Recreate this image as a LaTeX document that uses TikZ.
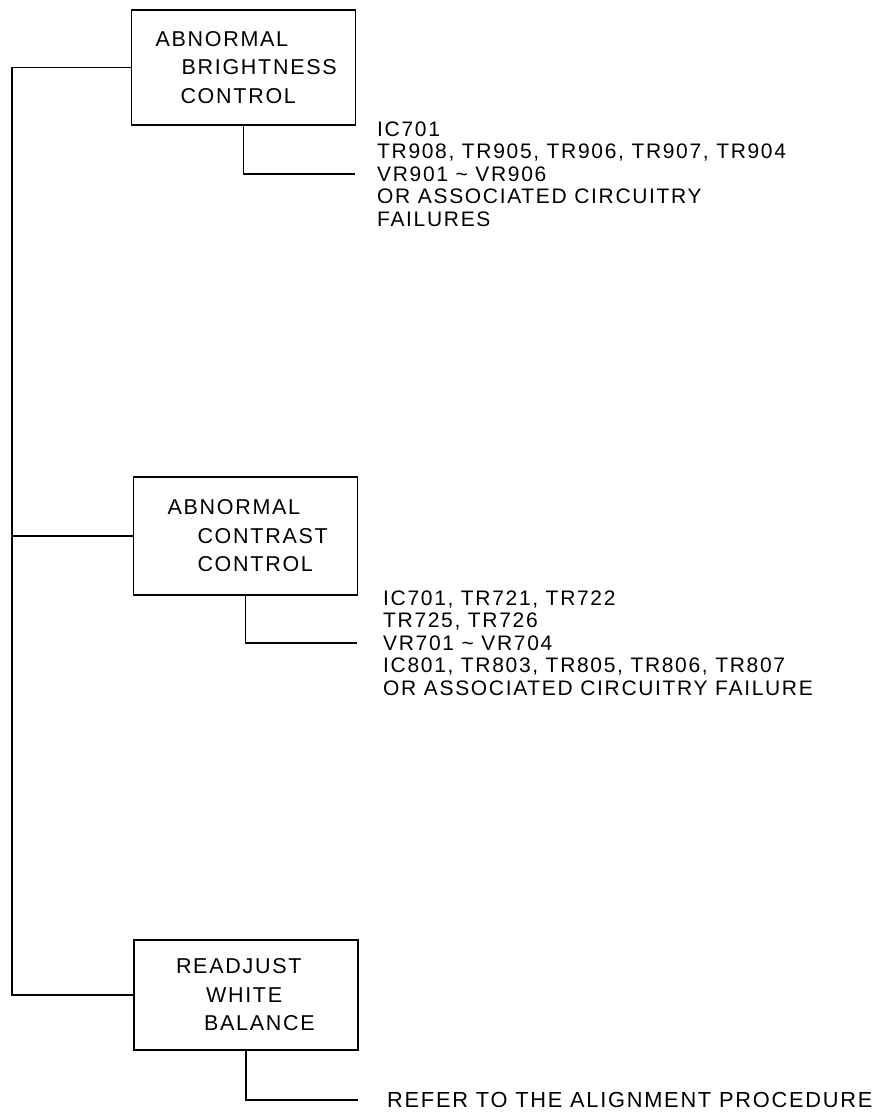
\documentclass[tikz,border=0pt]{standalone}
\usepackage{fontspec}
\setmainfont{Liberation Sans}
\newfontfamily\diagfont[LetterSpace=8]{Liberation Sans}
\usetikzlibrary{positioning}

\begin{document}
\begin{tikzpicture}[
    x=1pt, y=-1pt,
    node distance=22pt,
    % Box, list and wire styles
    checkbox/.style={rectangle, draw=black, line width=1.2pt, inner sep=0pt,
        text width=224pt, align=left, font=\diagfont\fontsize{21.5}{28.5}\selectfont},
    partlist/.style={inner sep=0pt, align=left, anchor=west,
        font=\diagfont\fontsize{21}{22.5}\selectfont},
    wire/.style={line width=1.2pt, draw=black},
]
\useasboundingbox (0,0) rectangle (891,1117);

% ============ Check boxes ============
\node[checkbox, minimum height=115pt] (bright) at (243.5,67.5)
    {\hspace*{24pt}ABNORMAL\\\hspace*{50pt}BRIGHTNESS\\\hspace*{49pt}CONTROL};

\node[checkbox, minimum height=118pt] (contrast) at (245.5,536)
    {\hspace*{34pt}ABNORMAL\\\hspace*{64pt}CONTRAST\\\hspace*{64pt}CONTROL};

\node[checkbox, minimum height=110pt] (white) at (246,995)
    {\hspace*{42pt}READJUST\\\hspace*{72pt}WHITE\\\hspace*{70pt}BALANCE};

% ============ Stub ends and part lists ============
\coordinate (end1) at (355,174);
\coordinate (end2) at (357,643);
\coordinate (end3) at (358,1100);
\coordinate (trunk) at (12,500);

\node[partlist, right=22pt of end1] (parts1)
    {IC701\\TR908, TR905, TR906, TR907, TR904\\VR901 \textasciitilde\ VR906\\OR ASSOCIATED CIRCUITRY\\FAILURES};

\node[partlist, right=26pt of end2] (parts2)
    {IC701, TR721, TR722\\TR725, TR726\\VR701 \textasciitilde\ VR704\\IC801, TR803, TR805, TR806, TR807\\OR ASSOCIATED CIRCUITRY FAILURE};

\node[partlist, right=29pt of end3, font=\diagfont\fontsize{21.8}{22.5}\selectfont] (parts3)
    {REFER TO THE ALIGNMENT PROCEDURE};

% ============ Wires ============
\draw[wire] (bright.west) -| (trunk) |- (white.west);
\draw[wire] (contrast.west) -- (contrast.west -| trunk);

\draw[wire] (bright.south) |- (end1);
\draw[wire] (contrast.south) |- (end2);
\draw[wire] (white.south) |- (end3);

\end{tikzpicture}
\end{document}
